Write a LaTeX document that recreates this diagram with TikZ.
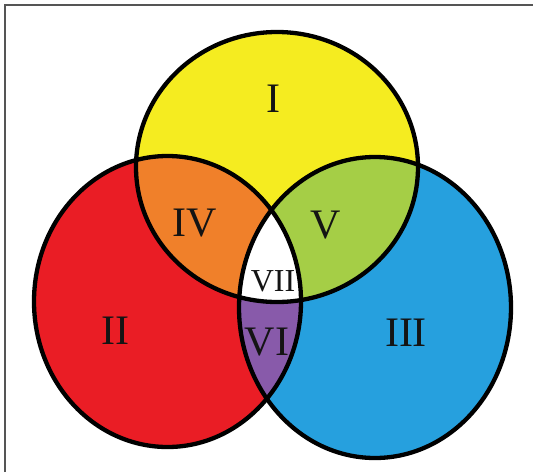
\documentclass[tikz,border=0pt]{standalone}
\usepackage{fontspec}
\setmainfont{Liberation Serif}
\definecolor{cyel}{RGB}{245,236,32}
\definecolor{cred}{RGB}{234,29,37}
\definecolor{cblue}{RGB}{38,160,222}
\definecolor{corange}{RGB}{240,128,42}
\definecolor{cgreen}{RGB}{165,206,70}
\definecolor{cpurple}{RGB}{136,90,170}
\definecolor{cframe}{RGB}{85,85,85}
\begin{document}
\begin{tikzpicture}[x=1pt,y=-1pt,
  outline/.style={draw=black,line width=4.3pt},
  big/.style={font=\fontsize{42}{42}\selectfont,inner sep=0pt,text=black!92},
  small/.style={font=\fontsize{32}{32}\selectfont,inner sep=0pt,text=black!92}]
\useasboundingbox (0,0) rectangle (533,472);
\fill[white] (0,0) rectangle (533,472);
% frame (top and left only)
\draw[cframe,line width=1.6pt] (5,472) -- (5,5) -- (533,5);
% shapes
\def\yel{(277,167) ellipse [x radius=141,y radius=135]}
\def\red{(167.5,301.5) ellipse [x radius=133.5,y radius=145.5]}
\def\blu{(375,307.5) ellipse [x radius=136,y radius=150.5]}
\fill[cyel] \yel;
\fill[cred] \red;
\fill[cblue] \blu;
\begin{scope}\clip \yel; \fill[corange] \red; \end{scope}
\begin{scope}\clip \yel; \fill[cgreen] \blu; \end{scope}
\begin{scope}\clip \red; \fill[cpurple] \blu; \end{scope}
\begin{scope}\clip \yel; \clip \red; \fill[white] \blu; \end{scope}
\draw[outline] \yel;
\draw[outline] \red;
\draw[outline] \blu;
% labels
\node[big] (l1) at (273,99) {I};
\node[big] (l2) at (115,331) {II};
\node[big] (l3) at (406,333) {III};
\node[big] (l4) at (195,223) {IV};
\node[big] (l5) at (326,225) {V};
\node[big] (l6) at (267,342) {VI};
\node[small] (l7) at (273,281) {VII};
\end{tikzpicture}
\end{document}
